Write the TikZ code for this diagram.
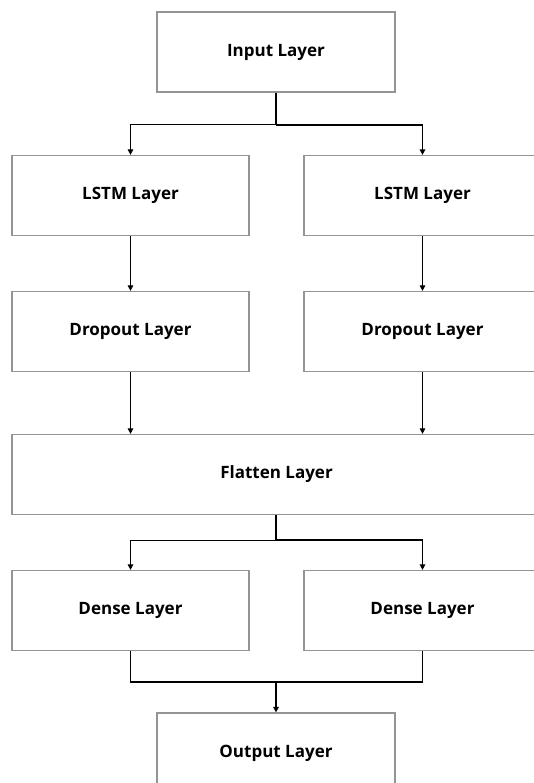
\documentclass[tikz,border=0pt]{standalone}
\usepackage{fontspec}
\setmainfont{Open Sans}
\usetikzlibrary{arrows.meta}
\tikzset{
LAYER/.style={draw=black!42, line width=1.2pt, fill=white, font=\bfseries\fontsize{17}{20}\selectfont,
  minimum width=237pt, minimum height=80pt, inner sep=0pt},
LINK/.style={draw=black, line width=#1, -{Triangle[length=5.5pt,width=5.5pt]}},
LINK/.default = 1pt,
WIRE/.style={draw=black, line width=1.6pt},
}

\begin{document}
\begin{tikzpicture}
[x=1pt, y=-1pt]
	\useasboundingbox (0,0) rectangle (534,783);
	\clip (0,0) rectangle (534,783);
	\node[LAYER, minimum width=238pt] (input) at (276,52) {Input Layer};
	\foreach \s/\x in {L/130.5,R/422.5} {
	\node[LAYER] (lstm\s) at (\x,195.5) {LSTM Layer};
	\node[LAYER] (drop\s) at (\x,331.5) {Dropout Layer};
	\node[LAYER] (dense\s) at (\x,610.5) {Dense Layer};}
	\node[LAYER, minimum width=529pt] (flatten) at (276.5,474.5) {Flatten Layer};
	\node[LAYER, minimum width=238pt] (output) at (276,753) {Output Layer};
	\coordinate (split1) at (276,125);
	\coordinate (split2) at (276,540);
	\coordinate (join) at (276,682);
	% branches and merges
	\path[WIRE] (input.south) -- (split1);
	\path[WIRE] (flatten.south -| split2) -- (split2);
	\foreach \s/\w in {L/1pt,R/1.6pt} {
	\path[LINK=\w] (split1) -| (lstm\s.north);
	\path[LINK] (lstm\s.south) -- (drop\s.north);
	\path[LINK] (drop\s.south) -- (drop\s.south |- flatten.north);
	\path[LINK=\w] (split2) -| (dense\s.north);
	\path[WIRE] (dense\s.south) |- (join);}
	\path[LINK=1.6pt] (join) -- (output.north);
\end{tikzpicture}
\end{document}
